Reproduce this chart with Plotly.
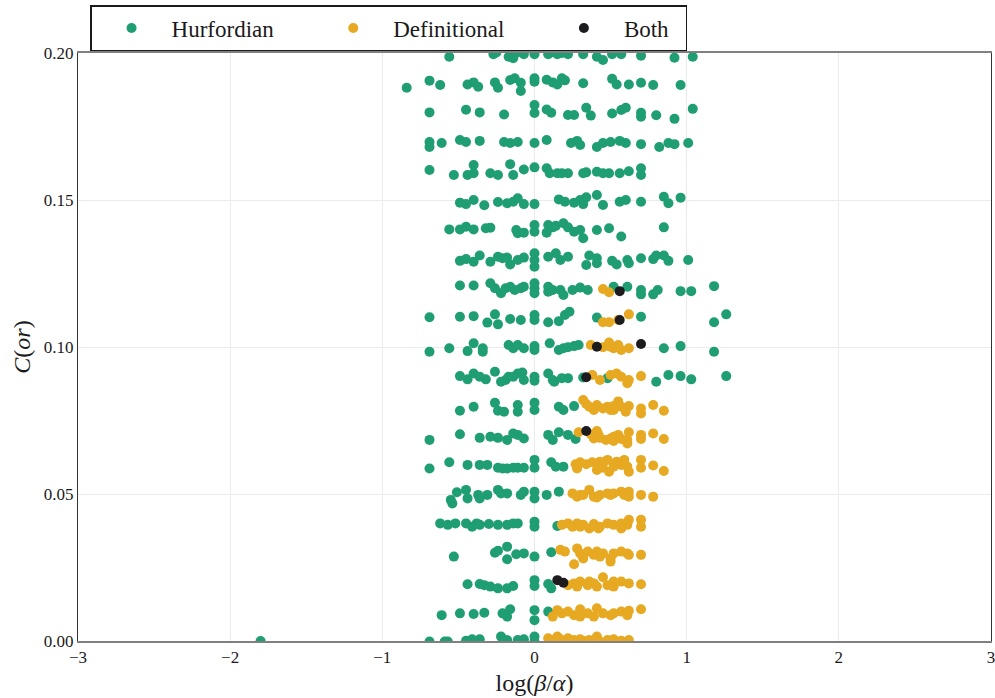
import plotly.graph_objects as go

# ---------------- data ----------------
# Hurfordian (green), listed row by row from C(or)=0.20 down to 0.00
hurf_x = [
    -0.56, -0.27, -0.25, -0.17, -0.14, -0.12, -0.07, 0.00, 0.09, 0.12, 0.15, 0.18, 0.22, 0.32, 0.41, 0.45, 0.51, 0.57, 0.70, 0.92, 1.04,
    -0.84, -0.69, -0.62, -0.44, -0.40, -0.37, -0.26, -0.24, -0.16, -0.13, -0.09, -0.09, 0.00, 0.00, 0.08, 0.12, 0.15, 0.18, 0.20, 0.32, 0.51, 0.54, 0.62, 0.70, 0.78, 0.96,
    -0.69, -0.45, -0.36, -0.20, 0.00, 0.00, 0.08, 0.11, 0.22, 0.26, 0.34, 0.37, 0.51, 0.57, 0.60, 0.70, 0.70, 0.80, 0.92, 1.04,
    -0.69, -0.69, -0.61, -0.49, -0.45, -0.36, -0.20, -0.16, -0.11, 0.00, 0.08, 0.24, 0.28, 0.30, 0.41, 0.45, 0.50, 0.56, 0.60, 0.70, 0.82, 0.88, 0.92, 1.01,
    -0.69, -0.53, -0.44, -0.40, -0.40, -0.29, -0.24, -0.16, -0.14, -0.07, 0.00, 0.08, 0.10, 0.15, 0.18, 0.22, 0.32, 0.34, 0.41, 0.45, 0.49, 0.56, 0.62, 0.70, 0.70,
    -0.49, -0.45, -0.40, -0.33, -0.24, -0.18, -0.14, -0.11, -0.07, 0.00, 0.16, 0.20, 0.26, 0.30, 0.32, 0.34, 0.41, 0.45, 0.56, 0.60, 0.70, 0.85, 0.88, 0.96,
    -0.56, -0.49, -0.45, -0.40, -0.32, -0.29, -0.12, -0.11, -0.07, 0.00, 0.00, 0.08, 0.09, 0.12, 0.14, 0.19, 0.22, 0.26, 0.30, 0.32, 0.41, 0.49, 0.57, 0.85,
    -0.49, -0.45, -0.40, -0.36, -0.29, -0.24, -0.21, -0.18, -0.16, -0.11, -0.07, 0.00, 0.00, 0.00, 0.09, 0.14, 0.17, 0.22, 0.36, 0.34, 0.41, 0.41, 0.51, 0.54, 0.61, 0.62, 0.70, 0.78, 0.80, 0.85, 0.88, 1.01,
    -0.49, -0.40, -0.29, -0.26, -0.22, -0.19, -0.16, -0.13, -0.09, -0.07, 0.00, 0.00, 0.00, 0.09, 0.09, 0.12, 0.17, 0.19, 0.25, 0.30, 0.35, 0.52, 0.61, 0.70, 0.70, 0.78, 0.81, 0.96, 1.03, 1.18,
    -0.69, -0.49, -0.40, -0.31, -0.26, -0.24, -0.16, -0.09, 0.00, 0.00, 0.09, 0.16, 0.20, 0.23, 0.41, 0.70, 1.18, 1.26,
    -0.69, -0.56, -0.44, -0.40, -0.34, -0.34, -0.17, -0.14, -0.11, -0.07, 0.00, 0.00, 0.10, 0.16, 0.19, 0.22, 0.26, 0.29, 0.85, 0.96, 1.18,
    -0.49, -0.44, -0.40, -0.36, -0.32, -0.26, -0.22, -0.19, -0.17, -0.14, -0.11, -0.08, -0.07, 0.00, 0.00, 0.09, 0.12, 0.13, 0.18, 0.22, 0.32, 0.48, 0.80, 0.88, 0.96, 1.03, 1.26,
    -0.49, -0.40, -0.26, -0.24, -0.20, -0.11, -0.11, 0.00, 0.00, 0.16, 0.19, 0.26,
    -0.69, -0.49, -0.36, -0.29, -0.24, -0.18, -0.14, -0.11, -0.07, 0.09, 0.12, 0.16, 0.22, 0.27,
    -0.69, -0.56, -0.44, -0.36, -0.31, -0.24, -0.21, -0.18, -0.14, -0.11, -0.07, 0.00, 0.00, 0.11, 0.14, 0.19,
    -0.55, -0.54, -0.51, -0.45, -0.44, -0.37, -0.36, -0.31, -0.24, -0.22, -0.18, -0.09, -0.07, 0.00, 0.00, 0.08, 0.16,
    -0.62, -0.57, -0.52, -0.45, -0.41, -0.38, -0.36, -0.30, -0.24, -0.18, -0.14, -0.11, 0.00, 0.00, 0.15,
    -0.53, -0.26, -0.24, -0.18, -0.18, -0.12, -0.07, 0.00, 0.11,
    -0.44, -0.36, -0.33, -0.29, -0.24, -0.18, -0.14, 0.00, 0.00, 0.09, 0.11,
    -0.61, -0.49, -0.40, -0.33, -0.21, -0.18, -0.16, 0.00, 0.00, 0.09,
    -1.80, -0.69, -0.59, -0.57, -0.45, -0.41, -0.36, -0.22, -0.18, -0.11, -0.07, 0.00, 0.00,
]
hurf_y = [
    0.1987, 0.1996, 0.2002, 0.1987, 0.1982, 0.2000, 0.1996, 0.1996, 0.1996, 0.2003, 0.1996, 0.2000, 0.1996, 0.1996, 0.1987, 0.1976, 0.1996, 0.1996, 0.1991, 0.1984, 0.1987,
    0.1882, 0.1906, 0.1891, 0.1893, 0.1900, 0.1885, 0.1900, 0.1882, 0.1908, 0.1914, 0.1899, 0.1871, 0.1914, 0.1902, 0.1909, 0.1900, 0.1893, 0.1914, 0.1907, 0.1897, 0.1912, 0.1893, 0.1893, 0.1899, 0.1891, 0.1891,
    0.1798, 0.1807, 0.1798, 0.1791, 0.1823, 0.1796, 0.1808, 0.1797, 0.1789, 0.1789, 0.1814, 0.1787, 0.1794, 0.1806, 0.1814, 0.1797, 0.1783, 0.1788, 0.1776, 0.1810,
    0.1697, 0.1680, 0.1694, 0.1704, 0.1697, 0.1701, 0.1697, 0.1694, 0.1697, 0.1694, 0.1704, 0.1694, 0.1701, 0.1687, 0.1680, 0.1694, 0.1697, 0.1701, 0.1694, 0.1690, 0.1680, 0.1694, 0.1690, 0.1694,
    0.1602, 0.1585, 0.1585, 0.1619, 0.1591, 0.1591, 0.1585, 0.1622, 0.1585, 0.1604, 0.1611, 0.1608, 0.1591, 0.1591, 0.1591, 0.1591, 0.1591, 0.1594, 0.1596, 0.1591, 0.1591, 0.1591, 0.1598, 0.1608, 0.1585,
    0.1491, 0.1486, 0.1500, 0.1482, 0.1493, 0.1489, 0.1494, 0.1506, 0.1486, 0.1486, 0.1502, 0.1494, 0.1491, 0.1500, 0.1486, 0.1509, 0.1517, 0.1483, 0.1494, 0.1500, 0.1494, 0.1511, 0.1489, 0.1508,
    0.1400, 0.1400, 0.1409, 0.1400, 0.1404, 0.1406, 0.1398, 0.1387, 0.1389, 0.1415, 0.1392, 0.1389, 0.1415, 0.1407, 0.1412, 0.1421, 0.1407, 0.1392, 0.1398, 0.1370, 0.1398, 0.1404, 0.1376, 0.1407,
    0.1293, 0.1299, 0.1290, 0.1311, 0.1290, 0.1307, 0.1302, 0.1304, 0.1281, 0.1296, 0.1304, 0.1319, 0.1296, 0.1273, 0.1307, 0.1319, 0.1296, 0.1307, 0.1311, 0.1279, 0.1302, 0.1285, 0.1293, 0.1281, 0.1296, 0.1285, 0.1302, 0.1299, 0.1311, 0.1311, 0.1293, 0.1296,
    0.1209, 0.1209, 0.1217, 0.1200, 0.1183, 0.1200, 0.1205, 0.1194, 0.1200, 0.1205, 0.1217, 0.1200, 0.1183, 0.1205, 0.1188, 0.1194, 0.1194, 0.1177, 0.1194, 0.1202, 0.1194, 0.1205, 0.1205, 0.1194, 0.1179, 0.1179, 0.1194, 0.1190, 0.1190, 0.1207,
    0.1101, 0.1103, 0.1105, 0.1083, 0.1111, 0.1077, 0.1095, 0.1092, 0.1109, 0.1092, 0.1084, 0.1088, 0.1109, 0.1120, 0.1100, 0.1103, 0.1084, 0.1111,
    0.0984, 0.0996, 0.0986, 0.1013, 0.0996, 0.0984, 0.1007, 0.0996, 0.1007, 0.0996, 0.1003, 0.0990, 0.1013, 0.0990, 0.0996, 0.0999, 0.1003, 0.1007, 0.0996, 0.1003, 0.0984,
    0.0901, 0.0890, 0.0910, 0.0899, 0.0890, 0.0916, 0.0882, 0.0888, 0.0899, 0.0899, 0.0910, 0.0913, 0.0888, 0.0899, 0.0885, 0.0910, 0.0888, 0.0882, 0.0894, 0.0894, 0.0896, 0.0894, 0.0882, 0.0905, 0.0901, 0.0890, 0.0901,
    0.0783, 0.0797, 0.0810, 0.0783, 0.0780, 0.0803, 0.0780, 0.0810, 0.0786, 0.0797, 0.0786, 0.0799,
    0.0684, 0.0703, 0.0691, 0.0695, 0.0691, 0.0684, 0.0706, 0.0701, 0.0689, 0.0701, 0.0684, 0.0710, 0.0701, 0.0687,
    0.0587, 0.0608, 0.0599, 0.0599, 0.0599, 0.0589, 0.0587, 0.0587, 0.0589, 0.0589, 0.0589, 0.0616, 0.0589, 0.0608, 0.0593, 0.0593,
    0.0480, 0.0468, 0.0506, 0.0514, 0.0485, 0.0497, 0.0485, 0.0497, 0.0514, 0.0502, 0.0502, 0.0497, 0.0508, 0.0508, 0.0485, 0.0497, 0.0508,
    0.0400, 0.0395, 0.0400, 0.0400, 0.0389, 0.0400, 0.0395, 0.0398, 0.0395, 0.0395, 0.0400, 0.0400, 0.0406, 0.0389, 0.0391,
    0.0287, 0.0300, 0.0307, 0.0321, 0.0278, 0.0295, 0.0298, 0.0287, 0.0302,
    0.0193, 0.0194, 0.0190, 0.0185, 0.0179, 0.0179, 0.0187, 0.0207, 0.0187, 0.0194, 0.0179,
    0.0088, 0.0094, 0.0092, 0.0096, 0.0094, 0.0083, 0.0108, 0.0105, 0.0071, 0.0100,
    0.0000, -0.0002, -0.0002, -0.0002, 0.0001, 0.0006, 0.0006, 0.0015, 0.0003, 0.0003, 0.0006, 0.0015, -0.0002,
]

# Definitional (yellow)
defn_x = [
    0.45, 0.49,
    0.45, 0.49, 0.62, 0.55,
    0.37, 0.45, 0.49, 0.52, 0.55, 0.57, 0.62, 0.50,
    0.38, 0.43, 0.50, 0.54, 0.57, 0.62, 0.61, 0.70,
    0.32, 0.34, 0.36, 0.39, 0.41, 0.45, 0.48, 0.50, 0.52, 0.55, 0.57, 0.60, 0.62, 0.52, 0.70, 0.70, 0.78, 0.85,
    0.29, 0.37, 0.41, 0.43, 0.47, 0.50, 0.52, 0.55, 0.57, 0.61, 0.62, 0.70, 0.70, 0.78, 0.85, 0.39, 0.42, 0.52, 0.61,
    0.27, 0.30, 0.34, 0.38, 0.41, 0.43, 0.48, 0.49, 0.52, 0.54, 0.57, 0.59, 0.61, 0.62, 0.70, 0.70, 0.78, 0.85, 0.28, 0.45,
    0.25, 0.30, 0.36, 0.39, 0.43, 0.48, 0.52, 0.57, 0.62, 0.62, 0.70, 0.78, 0.28, 0.32, 0.41, 0.50, 0.59,
    0.18, 0.22, 0.25, 0.28, 0.32, 0.36, 0.39, 0.43, 0.48, 0.52, 0.57, 0.61, 0.62, 0.70, 0.70, 0.30, 0.42, 0.57,
    0.17, 0.20, 0.26, 0.28, 0.30, 0.35, 0.39, 0.41, 0.45, 0.50, 0.52, 0.57, 0.61, 0.62, 0.70, 0.32, 0.43, 0.50,
    0.22, 0.26, 0.30, 0.35, 0.39, 0.45, 0.48, 0.52, 0.57, 0.62, 0.70, 0.28, 0.41, 0.52, 0.36,
    0.12, 0.15, 0.18, 0.22, 0.26, 0.30, 0.35, 0.39, 0.41, 0.45, 0.50, 0.57, 0.61, 0.62, 0.70, 0.30, 0.52,
    0.09, 0.13, 0.17, 0.22, 0.26, 0.30, 0.36, 0.41, 0.48, 0.52, 0.57, 0.62, 0.15, 0.28, 0.32, 0.43,
]
defn_y = [
    0.1197, 0.1186,
    0.1084, 0.1084, 0.1111, 0.1092,
    0.1007, 0.0999, 0.1015, 0.0996, 0.1007, 0.0990, 0.0996, 0.1001,
    0.0905, 0.0888, 0.0905, 0.0910, 0.0899, 0.0888, 0.0877, 0.0901,
    0.0820, 0.0806, 0.0797, 0.0786, 0.0803, 0.0791, 0.0797, 0.0786, 0.0799, 0.0815, 0.0797, 0.0780, 0.0799, 0.0786, 0.0791, 0.0774, 0.0803, 0.0783,
    0.0710, 0.0703, 0.0714, 0.0691, 0.0684, 0.0689, 0.0695, 0.0701, 0.0687, 0.0672, 0.0710, 0.0701, 0.0687, 0.0706, 0.0687, 0.0689, 0.0701, 0.0680, 0.0684,
    0.0601, 0.0608, 0.0601, 0.0608, 0.0582, 0.0610, 0.0616, 0.0576, 0.0593, 0.0610, 0.0599, 0.0616, 0.0593, 0.0576, 0.0616, 0.0589, 0.0597, 0.0578, 0.0587, 0.0589,
    0.0502, 0.0497, 0.0514, 0.0491, 0.0497, 0.0502, 0.0502, 0.0508, 0.0508, 0.0491, 0.0497, 0.0491, 0.0491, 0.0497, 0.0488, 0.0497, 0.0497,
    0.0395, 0.0400, 0.0389, 0.0400, 0.0395, 0.0383, 0.0398, 0.0389, 0.0400, 0.0395, 0.0400, 0.0395, 0.0412, 0.0412, 0.0389, 0.0389, 0.0383, 0.0383,
    0.0310, 0.0304, 0.0261, 0.0315, 0.0298, 0.0304, 0.0293, 0.0304, 0.0298, 0.0281, 0.0298, 0.0304, 0.0298, 0.0293, 0.0293, 0.0281, 0.0287, 0.0270,
    0.0190, 0.0196, 0.0202, 0.0190, 0.0196, 0.0217, 0.0190, 0.0185, 0.0202, 0.0196, 0.0193, 0.0185, 0.0185, 0.0202, 0.0202,
    0.0083, 0.0105, 0.0094, 0.0100, 0.0088, 0.0108, 0.0094, 0.0083, 0.0111, 0.0094, 0.0088, 0.0100, 0.0088, 0.0103, 0.0108, 0.0083, 0.0094,
    0.0009, 0.0003, 0.0006, 0.0009, 0.0003, 0.0006, 0.0003, 0.0015, 0.0003, 0.0006, 0.0001, 0.0003, 0.0015, -0.0002, 0.0001, -0.0002,
]

# Both (black)
both_x = [0.56, 0.56, 0.41, 0.70, 0.34, 0.34, 0.15, 0.19]
both_y = [0.1190, 0.1092, 0.1001, 0.1010, 0.0897, 0.0714, 0.0207, 0.0198]

series_names = ["Hurfordian", "Definitional", "Both"]
series_colors = ["#1f9e74", "#e6a921", "#1c1b1d"]

x_ticks = [-3, -2, -1, 0, 1, 2, 3]
y_ticks = [0.00, 0.05, 0.10, 0.15, 0.20]

# ---------------- figure ----------------
NB = "\u00a0"
legend_pad = [NB * 6, NB * 6, NB * 2]

fig = go.Figure()
for name, pad, xs, ys, col in zip(series_names, legend_pad,
                                  [hurf_x, defn_x, both_x],
                                  [hurf_y, defn_y, both_y],
                                  series_colors):
    fig.add_trace(go.Scatter(x=xs, y=ys, mode="markers", name=name + pad,
                             marker=dict(size=10, color=col, line=dict(width=0))))

font_family = "Liberation Serif, Times New Roman, serif"
fig.update_layout(
    width=995, height=698,
    margin=dict(l=78, r=4, t=53, b=57, autoexpand=False),
    paper_bgcolor="white", plot_bgcolor="white",
    font=dict(family=font_family, size=17, color="#1a1a1a"),
    showlegend=True,
    legend=dict(orientation="h", x=0.0132, y=1.0816, xanchor="left", yanchor="top",
                bordercolor="#1a1a1a", borderwidth=1.5, bgcolor="white",
                font=dict(size=23, family=font_family),
                itemwidth=70, tracegroupgap=0, itemsizing="trace"),
)
fig.update_xaxes(range=[-3, 3], tickvals=x_ticks, showgrid=True, gridcolor="#ebebeb",
                 gridwidth=1, zeroline=False, showline=True, linecolor="#808080",
                 linewidth=2, mirror=True, ticks="", ticklabeloverflow="allow",
                 tickfont=dict(family=font_family, size=17),
                 title=dict(text="log(<i>β</i>/<i>α</i>)", font=dict(size=24), standoff=8))
fig.update_yaxes(range=[0, 0.2], tickvals=y_ticks, tickformat=".2f", showgrid=True,
                 gridcolor="#ebebeb", gridwidth=1, zeroline=False, showline=True,
                 linecolor="#333333", linewidth=1.2, mirror=True, ticks="",
                 tickfont=dict(family=font_family, size=17),
                 title=dict(text="<i>C</i>(<i>or</i>)", font=dict(size=24), standoff=6))

# remove the default page margin so the 995x698 figure fills the window exactly
fig.write_html("out.html",
               config={"displayModeBar": False},
               post_script="document.body.style.margin='0';document.body.style.overflow='hidden';")
